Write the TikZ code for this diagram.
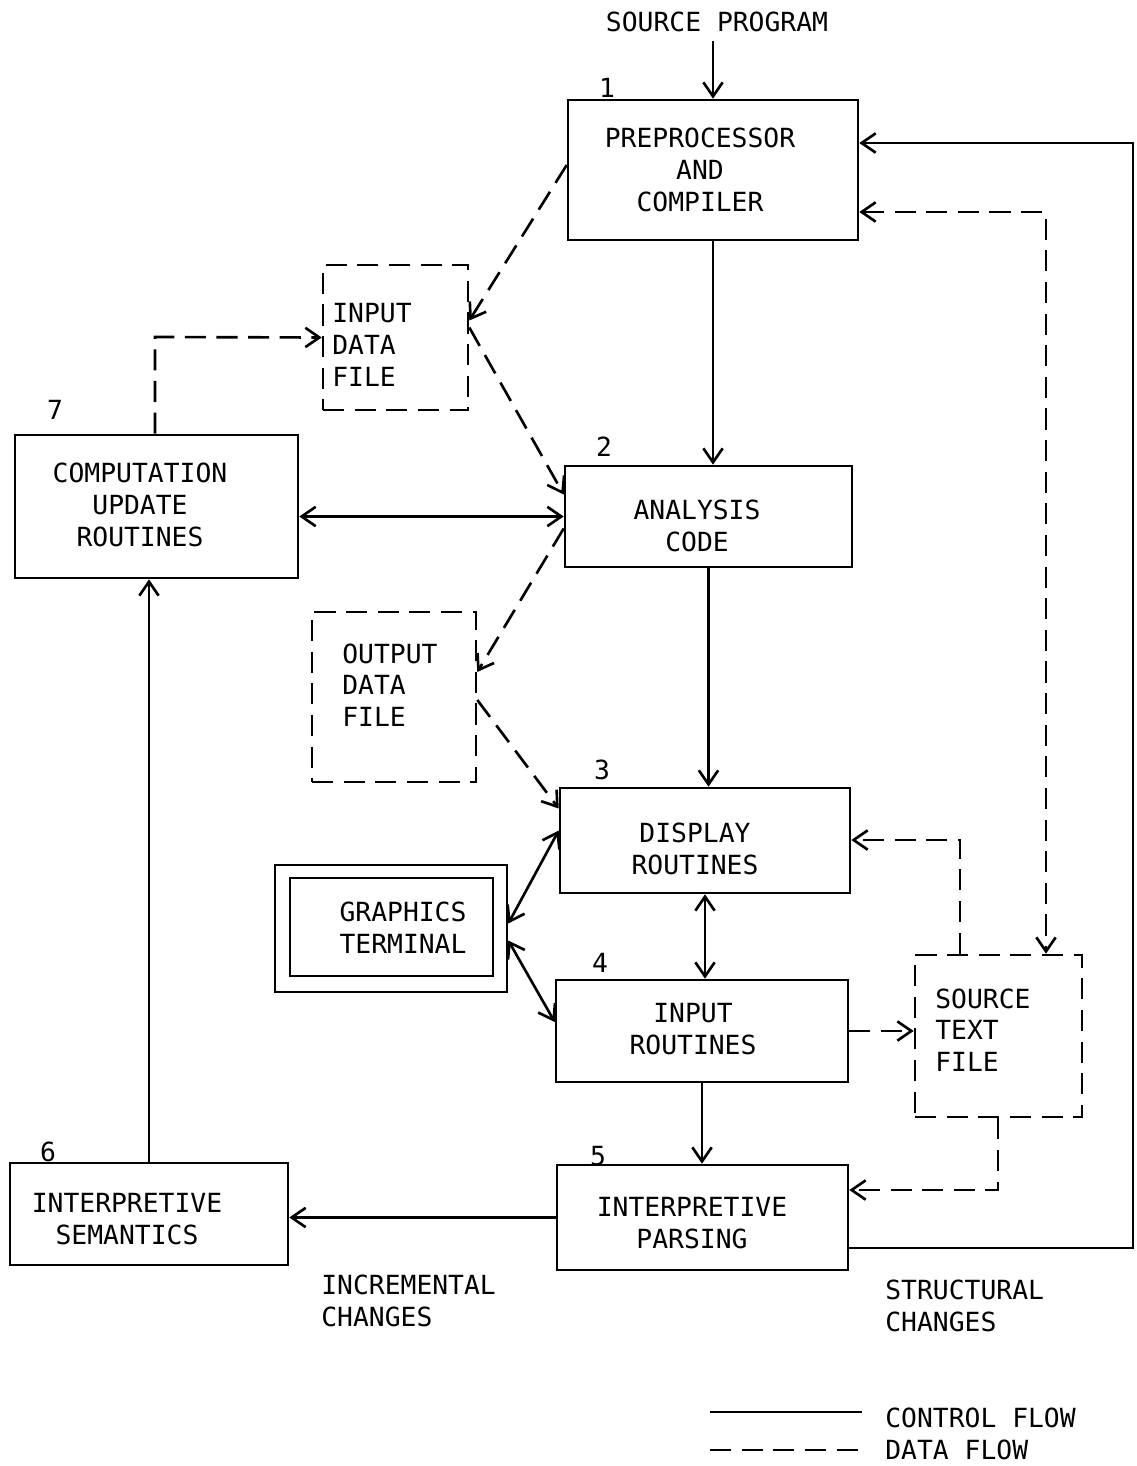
\documentclass[tikz,border=0pt]{standalone}
\usepackage{fontspec}
\setmonofont{DejaVu Sans Mono}
\usetikzlibrary{arrows.meta,calc}
\begin{document}
\begin{tikzpicture}[x=0.02cm,y=-0.02cm,
  font=\ttfamily\fontsize{15pt}{18pt}\selectfont,
  >={Straight Barb[length=8pt,width=11pt]},
  line width=1.5pt,
  box/.style={draw,rectangle,inner sep=0pt},
  fbox/.style={draw,rectangle,inner sep=0pt,dash pattern=on 12pt off 6pt},
  txt/.style={align=center,inner sep=0pt},
  ltxt/.style={align=left,anchor=west,inner sep=0pt},
  ctrl/.style={->},
  dflow/.style={->,dash pattern=on 12pt off 6pt},
  num/.style={inner sep=0pt}]
\useasboundingbox (0,0) rectangle (1136,1466);

% boxes
\node[box, minimum width=5.8cm, minimum height=2.8cm] (b1) at (713,170) {};
\node[box, minimum width=5.74cm, minimum height=2.02cm] (b2) at (708.5,516.5) {};
\node[box, minimum width=5.66cm, minimum height=2.86cm] (b7) at (156.5,506.5) {};
\node[fbox, minimum width=2.9cm, minimum height=2.9cm] (idf) at (395.5,337.5) {};
\node[fbox, minimum width=3.28cm, minimum height=3.4cm] (odf) at (394,697) {};
\node[box, minimum width=5.8cm, minimum height=2.1cm] (b3) at (705,840.5) {};
\node[box, minimum width=4.64cm, minimum height=2.54cm] (gt) at (391,928.5) {};
\node[box, minimum width=4.06cm, minimum height=1.96cm] (gtin) at (391.5,927) {};
\node[box, minimum width=5.84cm, minimum height=2.04cm] (b4) at (702,1031) {};
\node[fbox, minimum width=3.34cm, minimum height=3.24cm] (stf) at (998.5,1036) {};
\node[box, minimum width=5.82cm, minimum height=2.1cm] (b5) at (702.5,1217.5) {};
\node[box, minimum width=5.56cm, minimum height=2.04cm] (b6) at (149,1214) {};

% texts
\node[txt] (sp) at (717,22) {SOURCE PROGRAM};
\node[txt] (t1) at (700,170) {PREPROCESSOR\\AND\\COMPILER};
\node[txt] (t2) at (697,526) {ANALYSIS\\CODE};
\node[txt] (t7) at (140,505) {COMPUTATION\\UPDATE\\ROUTINES};
\node[ltxt] (tidf) at (331,345) {INPUT\\DATA\\FILE};
\node[ltxt] (todf) at (341,685) {OUTPUT\\DATA\\FILE};
\node[txt] (t3) at (695,849) {DISPLAY\\ROUTINES};
\node[txt] (tgt) at (403,928) {GRAPHICS\\TERMINAL};
\node[txt] (t4) at (693,1029) {INPUT\\ROUTINES};
\node[ltxt] (tstf) at (934,1030) {SOURCE\\TEXT\\FILE};
\node[txt] (t5) at (692,1223) {INTERPRETIVE\\PARSING};
\node[txt] (t6) at (127,1219) {INTERPRETIVE\\SEMANTICS};
\node[ltxt] (tinc) at (320,1301) {INCREMENTAL\\CHANGES};
\node[ltxt] (tstr) at (884,1306) {STRUCTURAL\\CHANGES};

% numbers
\node[num] (n1) at (607,88) {1};
\node[num] (n2) at (604,447) {2};
\node[num] (n3) at (602,770) {3};
\node[num] (n4) at (600,963) {4};
\node[num] (n5) at (598,1156) {5};
\node[num] (n6) at (48,1152) {6};
\node[num] (n7) at (55,410) {7};

% coordinates
\coordinate (c1) at (1133,1248);
\coordinate (c2) at (1133,143);
\coordinate (c3) at (1046,212);
\coordinate (c4) at (960,840);
\coordinate (c5) at (998,1190);
\coordinate (c6) at (155,337);

% control flow
\draw[ctrl] (b1.north |- sp.south) ++(0,8) -- (b1.north);
\draw[ctrl] (b1.south) -- (b1.south |- b2.north);
\draw[ctrl] (b2.south) -- (b2.south |- b3.north);
\draw[<->] (b3.south) -- (b3.south |- b4.north);
\draw[ctrl] (b4.south) -- (b4.south |- b5.north);
\draw[<->] (b7.east |- b2.west) -- (b2.west);
\draw[ctrl] (b5.west) -- (b6.east |- b5.west);
\draw[ctrl] (b6.north) -- (b6.north |- b7.south);
\draw[ctrl] (b5.east |- c1) -- (c1) -- (c2) -- (b1.east |- c2);
\draw[<->] ($(b3.west)+(0,-10)$) -- ($(gt.east)+(0,-5)$);
\draw[<->] ($(gt.east)+(0,12)$) -- ($(b4.west)+(0,-9)$);

% data flow
\draw[dflow] ($(b1.west)+(0,-5)$) -- ($(idf.east)+(0,-17)$);
\draw[dflow] ($(idf.east)+(0,-10)$) -- ($(b2.west)+(0,-22)$);
\draw[dflow] ($(b2.west)+(0,12)$) -- ($(odf.east)+(0,-25)$);
\draw[dflow] ($(odf.east)+(0,3)$) -- ($(b3.west)+(0,-32)$);
\draw[dflow] (c6 |- b7.north) -- (c6) -- (idf.west);
\draw[<->,dash pattern=on 12pt off 6pt] (b1.east |- c3) -- (c3) -- (c3 |- stf.north);
\draw[dflow] (c4 |- stf.north) -- (c4) -- (b3.east |- c4);
\draw[dflow] (b4.east) -- (stf.west |- b4.east);
\draw[dflow] (stf.south -| c5) -- (c5) -- (b5.east |- c5);

% legend
\coordinate (l1) at (710,1412);
\coordinate (l2) at (710,1450);
\node[ltxt] (lc) at (884,1418) {CONTROL FLOW};
\node[ltxt] (ld) at (884,1450) {DATA FLOW};
\draw (l1) -- (l1 -| 862,0);
\draw[dash pattern=on 12pt off 6pt] (l2) -- (l2 -| 862,0);
\end{tikzpicture}
\end{document}
